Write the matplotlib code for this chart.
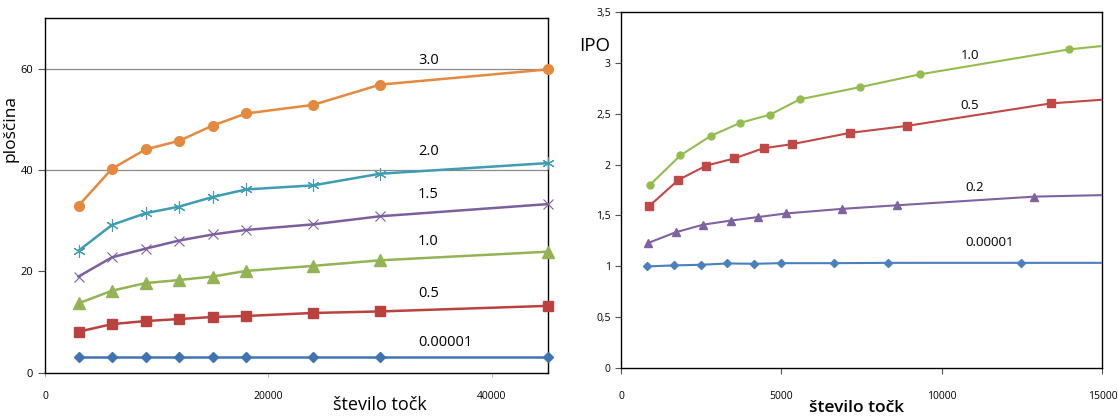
import matplotlib.pyplot as plt
from matplotlib.ticker import FuncFormatter

plt.rcParams['font.family'] = ['Open Sans', 'DejaVu Sans']

# ---- left chart: ploščina vs število točk ----
left_x = [3000, 6000, 9000, 12000, 15000, 18000, 24000, 30000, 45000]
left_labels = ['3.0', '2.0', '1.5', '1.0', '0.5', '0.00001']
left_vals = {
    '3.0': [33.0, 40.3, 44.1, 45.8, 48.8, 51.2, 52.9, 56.9, 59.9],
    '2.0': [24.1, 29.2, 31.5, 32.8, 34.7, 36.2, 37.0, 39.3, 41.4],
    '1.5': [19.0, 22.8, 24.5, 26.1, 27.3, 28.2, 29.3, 30.9, 33.3],
    '1.0': [13.7, 16.2, 17.7, 18.3, 19.0, 20.1, 21.1, 22.2, 23.9],
    '0.5': [8.1, 9.6, 10.2, 10.6, 11.0, 11.2, 11.8, 12.1, 13.2],
    '0.00001': [3.1, 3.1, 3.1, 3.1, 3.1, 3.1, 3.1, 3.1, 3.1],
}
left_label_y = [61.7, 43.6, 35.1, 25.9, 15.7, 6.0]
left_grid = [40, 60]

# ---- right chart: IPO vs število točk ----
right_labels = ['1.0', '0.5', '0.2', '0.00001']
right_x = {
    '1.0': [900, 1850, 2790, 3720, 4650, 5570, 7450, 9310, 13950, 18600],
    '0.5': [870, 1790, 2660, 3530, 4440, 5330, 7120, 8920, 13390, 17800],
    '0.2': [845, 1700, 2560, 3420, 4280, 5140, 6890, 8590, 12870, 17140],
    '0.00001': [810, 1645, 2480, 3310, 4145, 4980, 6645, 8310, 12455, 16600],
}
right_vals = {
    '1.0': [1.80, 2.09, 2.28, 2.41, 2.49, 2.64, 2.76, 2.885, 3.13, 3.28],
    '0.5': [1.59, 1.85, 1.99, 2.06, 2.16, 2.20, 2.31, 2.38, 2.60, 2.70],
    '0.2': [1.23, 1.335, 1.41, 1.45, 1.485, 1.52, 1.565, 1.60, 1.685, 1.715],
    '0.00001': [1.0, 1.01, 1.016, 1.029, 1.026, 1.032, 1.032, 1.035, 1.035, 1.035],
}
right_label_pos = [(10870, 3.07), (10870, 2.58), (11030, 1.77), (11480, 1.23)]

left_style = {
    '3.0': dict(color='#E5893F', marker='o', ms=7),
    '2.0': dict(color='#3E9CB3', marker=(6, 2, 0), ms=9, mew=0.8),
    '1.5': dict(color='#7E5F9E', marker='x', ms=7, mew=0.8),
    '1.0': dict(color='#93B454', marker='^', ms=8),
    '0.5': dict(color='#B9423F', marker='s', ms=7),
    '0.00001': dict(color='#3F74B4', marker='D', ms=5),
}
right_style = {
    '1.0': dict(color='#93BC4E', marker='o', ms=5),
    '0.5': dict(color='#C04845', marker='s', ms=5.5),
    '0.2': dict(color='#8062A0', marker='^', ms=5.5),
    '0.00001': dict(color='#4A80BE', marker='D', ms=4),
}

fig = plt.figure(figsize=(11.18, 4.19), dpi=100)

# left
ax1 = fig.add_axes([0.0403, 0.1105, 0.4495, 0.8458])
for y in left_grid:
    ax1.axhline(y, color='#8a8a8a', lw=0.9, zorder=0)
for name in left_labels:
    ax1.plot(left_x, left_vals[name], lw=1.8, clip_on=False, zorder=3, **left_style[name])
for name, ly in zip(left_labels, left_label_y):
    ax1.text(33400, ly, name, fontsize=10.5, ha='left', va='center')
ax1.set_xlim(0, 45000)
ax1.set_ylim(0, 70)
ax1.set_xticks([0, 20000, 40000])
ax1.set_yticks([0, 20, 40, 60])
ax1.tick_params(axis='x', labelsize=7.5, pad=10, length=3, color='#bbbbbb')
ax1.tick_params(axis='y', labelsize=8, length=5, color='#555555')
ax1.set_xlabel('število točk', fontsize=13)
ax1.xaxis.set_label_coords(0.667, -0.065)
ax1.set_ylabel('ploščina', fontsize=12.5)
ax1.yaxis.set_label_coords(-0.052, 0.69)
for s in ax1.spines.values():
    s.set_linewidth(1.0)

# right
ax2 = fig.add_axes([0.5555, 0.121, 0.4305, 0.851])
for name in right_labels:
    ax2.plot(right_x[name], right_vals[name], lw=1.5, zorder=3, **right_style[name])
for name, (lx, ly) in zip(right_labels, right_label_pos):
    ax2.text(lx, ly, name, fontsize=9.5, ha='center', va='center')
ax2.set_xlim(0, 15000)
ax2.set_ylim(0, 3.5)
ax2.set_xticks([0, 5000, 10000, 15000])
ax2.set_yticks([0, 0.5, 1, 1.5, 2, 2.5, 3, 3.5])
ax2.yaxis.set_major_formatter(FuncFormatter(lambda v, p: f'{v:g}'.replace('.', ',')))
ax2.tick_params(axis='x', labelsize=7.5, pad=12, length=4, color='#555555')
ax2.tick_params(axis='y', labelsize=7.5, length=4, color='#555555')
ax2.set_xlabel('število točk', fontsize=12.5, fontweight='semibold')
ax2.xaxis.set_label_coords(0.489, -0.09)
ax2.text(-0.055, 0.905, 'IPO', transform=ax2.transAxes, fontsize=13.5, ha='center', va='center')
for s in ax2.spines.values():
    s.set_linewidth(1.0)

fig.savefig('out.png', dpi=100)
